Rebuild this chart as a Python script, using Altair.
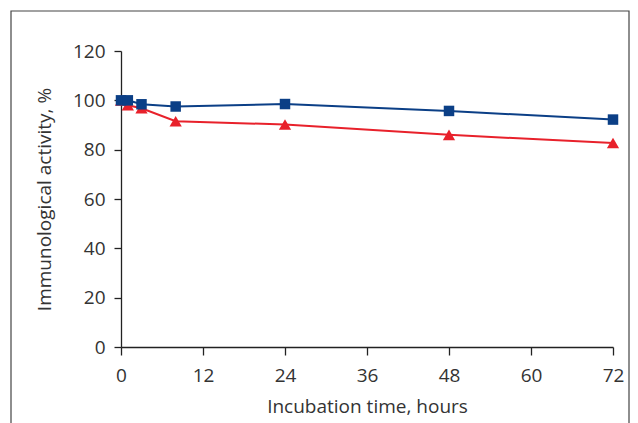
import altair as alt
import pandas as pd

hours_blue = [0, 1, 3, 8, 24, 48, 72]
activity_blue = [100, 100, 98.4, 97.5, 98.5, 95.7, 92.2]
hours_red = [0, 1, 3, 8, 24, 48, 72]
activity_red = [100, 98, 96.8, 91.5, 90.2, 86.0, 82.7]
x_ticks = [0, 12, 24, 36, 48, 60, 72]
y_ticks = [0, 20, 40, 60, 80, 100, 120]

df = pd.concat([
    pd.DataFrame({"hours": hours_red, "activity": activity_red, "series": "B", "z": 0}),
    pd.DataFrame({"hours": hours_blue, "activity": activity_blue, "series": "A", "z": 1}),
])

FONT = "Open Sans"
color = alt.Color("series:N", scale=alt.Scale(domain=["A", "B"], range=["#0b3f86", "#e8212b"]), legend=None)
shape = alt.Shape("series:N", scale=alt.Scale(domain=["A", "B"], range=["square", "triangle-up"]), legend=None)
size = alt.Size("series:N", scale=alt.Scale(domain=["A", "B"], range=[110, 150]), legend=None)

x = alt.X("hours:Q", scale=alt.Scale(domain=[0, 72], nice=False),
          axis=alt.Axis(values=x_ticks, title="Incubation time, hours", grid=False, labelFlush=False,
                        tickSize=8, labelPadding=11, titlePadding=12))
y = alt.Y("activity:Q", scale=alt.Scale(domain=[0, 120], nice=False),
          axis=alt.Axis(values=y_ticks, title="Immunological activity, %", grid=False, labelFlush=False,
                        tickSize=7, labelPadding=9, titlePadding=18))

lines = alt.Chart(df).mark_line(strokeWidth=2, clip=False).encode(
    x=x, y=y, color=color, detail="series:N", order="hours:Q")
points = alt.Chart(df).mark_point(filled=True, opacity=1, clip=False).encode(
    x="hours:Q", y="activity:Q", color=color, shape=shape, size=size, order="z:Q")

border = alt.Chart(pd.DataFrame({"a": [0]})).mark_rect(
    fill=None, stroke="#444444", strokeWidth=1.2).encode(
    x=alt.value(-110), x2=alt.value(508), y=alt.value(-40), y2=alt.value(430))

chart = alt.layer(border, lines, points).properties(
    width=492, height=296,
    autosize=alt.AutoSizeParams(type="none"),
    padding={"left": 113, "top": 43, "right": 17, "bottom": 90},
).configure_view(stroke=None).configure_axis(
    domainColor="#222222", tickColor="#222222", domainWidth=1.3, tickWidth=1.3,
    labelFont=FONT, titleFont=FONT, labelFontSize=19, titleFontSize=19,
    labelColor="#333333", titleColor="#333333", titleFontWeight="normal",
)

chart.save("out.html", embed_options={"renderer": "svg", "actions": False})
